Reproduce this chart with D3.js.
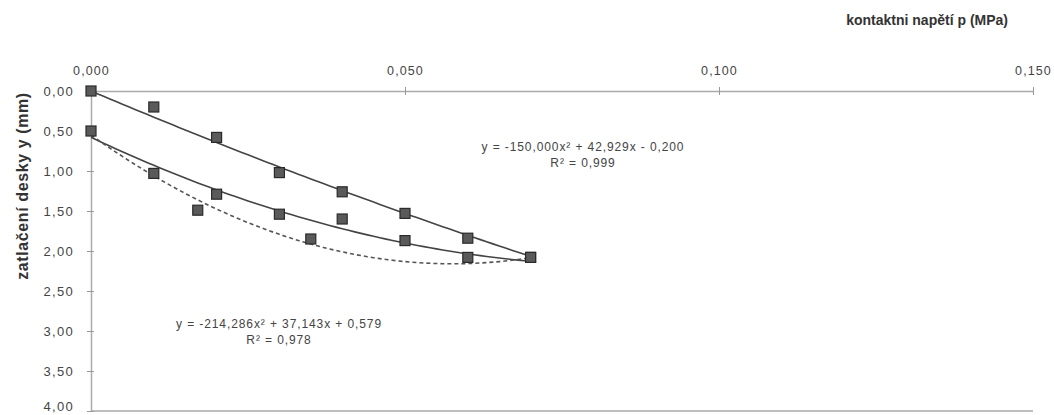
<!DOCTYPE html>
<html>
<head>
<meta charset="utf-8">
<script src="https://cdn.jsdelivr.net/npm/d3@7"></script>
<style>
  body { margin:0; background:#fff; }
  text { font-family: "Liberation Sans", Arial, sans-serif; }
</style>
</head>
<body>
<div id="chart"></div>
<script>
// x = contact stress p (MPa), y = settlement (mm)
const xTicks = [0, 0.05, 0.10, 0.15]
const yTicks = [0, 0.5, 1, 1.5, 2, 2.5, 3, 3.5, 4]
const upperX = [0, 0.01, 0.02, 0.03, 0.04, 0.05, 0.06, 0.07]
const upperY = [0, 0.2, 0.58, 1.02, 1.26, 1.53, 1.84, 2.08]
const lowerX = [0, 0.01, 0.02, 0.03, 0.04, 0.05, 0.06, 0.07]
const lowerY = [0.5, 1.03, 1.29, 1.54, 1.6, 1.87, 2.08, 2.08]
const extraX = [0.017, 0.035]
const extraY = [1.49, 1.85]
const upperTrend = [-53, 33.25, 0]             // a, b, c as drawn in the picture
const lowerTrend = [-214.286, 37.143, 0.579]
const dashTrend = [-487, 56, 0.55]             // estimated from the dashed curve
const labels = {
  upper: ["y = -150,000x\u00B2 + 42,929x - 0,200", "R\u00B2 = 0,999"],
  lower: ["y = -214,286x\u00B2 + 37,143x + 0,579", "R\u00B2 = 0,978"]
}

const W = 1054, H = 415
const margin = {top:91, left:91, right:21, bottom:4}
const innerW = W - margin.left - margin.right
const innerH = H - margin.top - margin.bottom

const x = d3.scaleLinear().domain([0, 0.15]).range([0, innerW])
const y = d3.scaleLinear().domain([0, 4]).range([0, innerH])
const fmt3 = d => d3.format(".3f")(d).replace(".", ",")
const fmt2 = d => d3.format(".2f")(d).replace(".", ",")

const svg = d3.select("#chart").append("svg").attr("width", W).attr("height", H)
const g = svg.append("g").attr("transform", `translate(${margin.left},${margin.top})`)

// bottom border
g.append("line").attr("x1", 0).attr("x2", innerW).attr("y1", innerH).attr("y2", innerH)
  .attr("stroke", "#aaa").attr("stroke-width", 1.5)

const xAxis = d3.axisTop(x).tickValues(xTicks).tickFormat(fmt3).tickSizeInner(4).tickSizeOuter(0).tickPadding(12)
const xg = g.append("g").call(xAxis)
xg.select(".domain").attr("stroke", "#aaa").attr("stroke-width", 1.5)
xg.selectAll(".tick line").attr("stroke", "#999").attr("y2", 4).attr("y1", -4)
xg.selectAll(".tick text").attr("fill", "#444").attr("font-size", 12.5).attr("letter-spacing", 1.1)

const yAxis = d3.axisLeft(y).tickValues(yTicks).tickFormat(fmt2).tickSizeInner(4).tickSizeOuter(0).tickPadding(13)
const yg = g.append("g").call(yAxis)
yg.select(".domain").attr("stroke", "#aaa").attr("stroke-width", 1.5)
yg.selectAll(".tick line").attr("stroke", "#999").attr("x2", 3).attr("x1", -4)
yg.selectAll(".tick text").attr("fill", "#444").attr("font-size", 13).attr("letter-spacing", 1.3)
  .attr("dy", d => d === 4 ? "-0.05em" : "0.32em")

// lines
const quad = c => d3.range(0, 0.07001, 0.001).map(v => [v, c[0]*v*v + c[1]*v + c[2]])
const line = d3.line().x(d => x(d[0])).y(d => y(d[1]))
g.append("path").datum(quad(upperTrend)).attr("fill", "none").attr("stroke", "#444").attr("stroke-width", 1.6)
  .attr("d", line)
g.append("path").datum(quad(lowerTrend)).attr("fill", "none").attr("stroke", "#444").attr("stroke-width", 1.6)
  .attr("d", line)
g.append("path").datum(quad(dashTrend)).attr("fill", "none").attr("stroke", "#555").attr("stroke-width", 1.6)
  .attr("stroke-dasharray", "4,3").attr("d", line)

// markers
const pts = upperX.map((v, i) => [v, upperY[i]]).concat(lowerX.map((v, i) => [v, lowerY[i]]), extraX.map((v, i) => [v, extraY[i]]))
g.selectAll("rect.m").data(pts).enter().append("rect").attr("class", "m")
  .attr("x", d => x(d[0]) - 5).attr("y", d => y(d[1]) - 5)
  .attr("width", 10).attr("height", 10)
  .attr("fill", "#5a5a5a").attr("stroke", "#2a2a2a").attr("stroke-width", 1.2)

// equations
const eq = (lines, cx, cy) => lines.forEach((t, i) =>
  svg.append("text").attr("x", cx).attr("y", cy + i * 16).attr("text-anchor", "middle")
    .attr("font-size", 12).attr("letter-spacing", 0.9).attr("fill", "#444").text(t))
eq(labels.upper, 583, 151)
eq(labels.lower, 279, 328)

// titles
svg.append("text").attr("x", 1008).attr("y", 25).attr("text-anchor", "end")
  .attr("font-size", 14).attr("font-weight", "bold").attr("fill", "#333").text("kontaktni napětí p (MPa)")
svg.append("text").attr("transform", "translate(28,186) rotate(-90)").attr("text-anchor", "middle")
  .attr("font-size", 16).attr("font-weight", "bold").attr("letter-spacing", 0.6).attr("fill", "#333").text("zatlačení desky y (mm)")
</script>
</body>
</html>
